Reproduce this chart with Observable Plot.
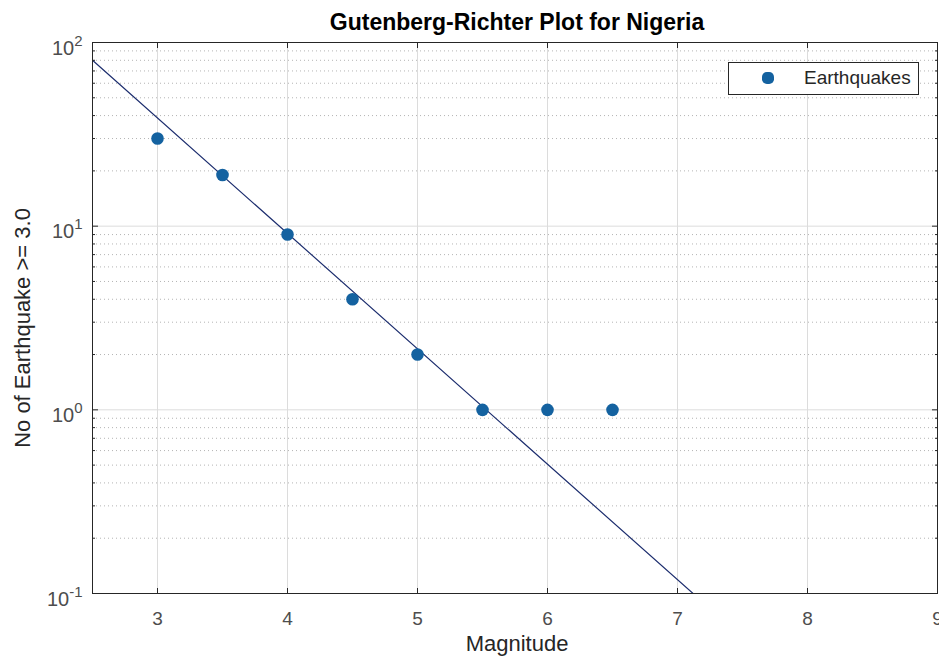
<!DOCTYPE html>
<html>
<head>
<meta charset="utf-8">
<script src="https://cdn.jsdelivr.net/npm/d3@7"></script>
<script src="https://cdn.jsdelivr.net/npm/@observablehq/plot@0.6"></script>
<style>
  body { margin: 0; background: #fff; }
  #wrap { position: relative; width: 939px; height: 664px; overflow: hidden; font-family: "Liberation Sans", Arial, sans-serif; }
  #legend { position: absolute; left: 728px; top: 62px; width: 189px; height: 31px; border: 1px solid #262626; background: #fff; }
  #legend .mk { position: absolute; left: 33px; top: 9px; width: 12px; height: 12px; border-radius: 40%; background: #1462a0; }
  #legend .lb { position: absolute; left: 75px; top: 4px; font-size: 19px; color: #262626; line-height: 22px; }
</style>
</head>
<body>
<div id="wrap"></div>
<script>
// Data
const magnitude = [3, 3.5, 4, 4.5, 5, 5.5, 6, 6.5];
const counts = [30, 19, 9, 4, 2, 1, 1, 1];
// Fitted Gutenberg-Richter line (endpoints)
const fitMagnitude = [2.5, 7.12];
const fitCounts = [80, 0.1];
// Ticks
const xTicks = [3, 4, 5, 6, 7, 8, 9];
const yMajor = [0.1, 1, 10, 100];
const yExponents = ["-1", "0", "1", "2"];
const yMinor = [0.2, 0.3, 0.4, 0.5, 0.6, 0.7, 0.8, 0.9,
                2, 3, 4, 5, 6, 7, 8, 9,
                20, 30, 40, 50, 60, 70, 80, 90];

const points = magnitude.map((m, i) => ({m, n: counts[i]}));
const fit = fitMagnitude.map((m, i) => ({m, n: fitCounts[i]}));
const yLabels = yMajor.map((v, i) => ({v, e: yExponents[i]}));

const tickColor = "#262626";
const labelColor = "#4d4d4d";

const chart = Plot.plot({
  width: 939,
  height: 664,
  marginLeft: 92,
  marginTop: 42,
  marginRight: 2,
  marginBottom: 71,
  style: {fontFamily: "Liberation Sans, Arial, sans-serif", background: "#fff"},
  x: {domain: [2.5, 9], axis: null},
  y: {type: "log", domain: [0.1, 100], axis: null},
  marks: [
    Plot.ruleY(yMinor, {stroke: "#b4b4b4", strokeDasharray: "1,3", strokeWidth: 1}),
    Plot.ruleY(yMajor, {stroke: "#dcdcdc", strokeWidth: 1}),
    Plot.ruleX(xTicks, {stroke: "#dcdcdc", strokeWidth: 1}),
    Plot.line(fit, {x: "m", y: "n", stroke: "#1c2d6e", strokeWidth: 1.2, clip: true}),
    Plot.dot(points, {x: "m", y: "n", r: 6.3, fill: "#1462a0", stroke: "none"}),
    // tick marks (inward, MATLAB style)
    Plot.axisX({anchor: "bottom", ticks: xTicks, tickSize: -5, tickFormat: () => "", color: tickColor, label: null}),
    Plot.axisX({anchor: "top", ticks: xTicks, tickSize: -5, tickFormat: () => "", color: tickColor, label: null}),
    Plot.axisY({anchor: "left", ticks: yMajor, tickSize: -6, tickFormat: () => "", color: tickColor, label: null}),
    Plot.axisY({anchor: "left", ticks: yMinor, tickSize: -3, tickFormat: () => "", color: tickColor, label: null}),
    Plot.axisY({anchor: "right", ticks: yMajor, tickSize: -6, tickFormat: () => "", color: tickColor, label: null}),
    Plot.axisY({anchor: "right", ticks: yMinor, tickSize: -3, tickFormat: () => "", color: tickColor, label: null}),
    Plot.frame({stroke: tickColor, strokeWidth: 1}),
    // tick labels
    Plot.text(xTicks, {x: d => d, frameAnchor: "bottom", text: d => String(d), lineAnchor: "bottom", dy: 31, fontSize: 19, fill: labelColor, textAnchor: "middle"}),
    Plot.text(yLabels, {y: "v", frameAnchor: "left", text: "e", lineAnchor: "bottom", dx: -10, dy: 12, fontSize: 20, fill: labelColor, textAnchor: "end"}),
    // title & axis labels
    Plot.text(["Gutenberg-Richter Plot for Nigeria"], {frameAnchor: "top", text: d => d, lineAnchor: "bottom", dy: -13, dx: 2, fontSize: 23, fontWeight: "bold", fill: "#000"}),
    Plot.text(["Magnitude"], {frameAnchor: "bottom", text: d => d, lineAnchor: "bottom", dy: 57, dx: 2, fontSize: 22, fill: tickColor}),
    Plot.text(["No of Earthquake >= 3.0"], {frameAnchor: "left", text: d => d, rotate: -90, textAnchor: "middle", lineAnchor: "middle", dx: -70, dy: 10, fontSize: 22, fill: tickColor})
  ]
});

// turn exponent labels into "10" with a superscript exponent
d3.select(chart).selectAll("text").each(function() {
  const e = this.textContent;
  if (!yExponents.includes(e)) return;
  const t = d3.select(this);
  t.text("10");
  t.append("tspan").attr("dy", -9).attr("font-size", 15).text(e);
});

const wrap = document.getElementById("wrap");
wrap.appendChild(chart);
const legend = document.createElement("div");
legend.id = "legend";
legend.innerHTML = '<div class="mk"></div><div class="lb">Earthquakes</div>';
wrap.appendChild(legend);
</script>
</body>
</html>
